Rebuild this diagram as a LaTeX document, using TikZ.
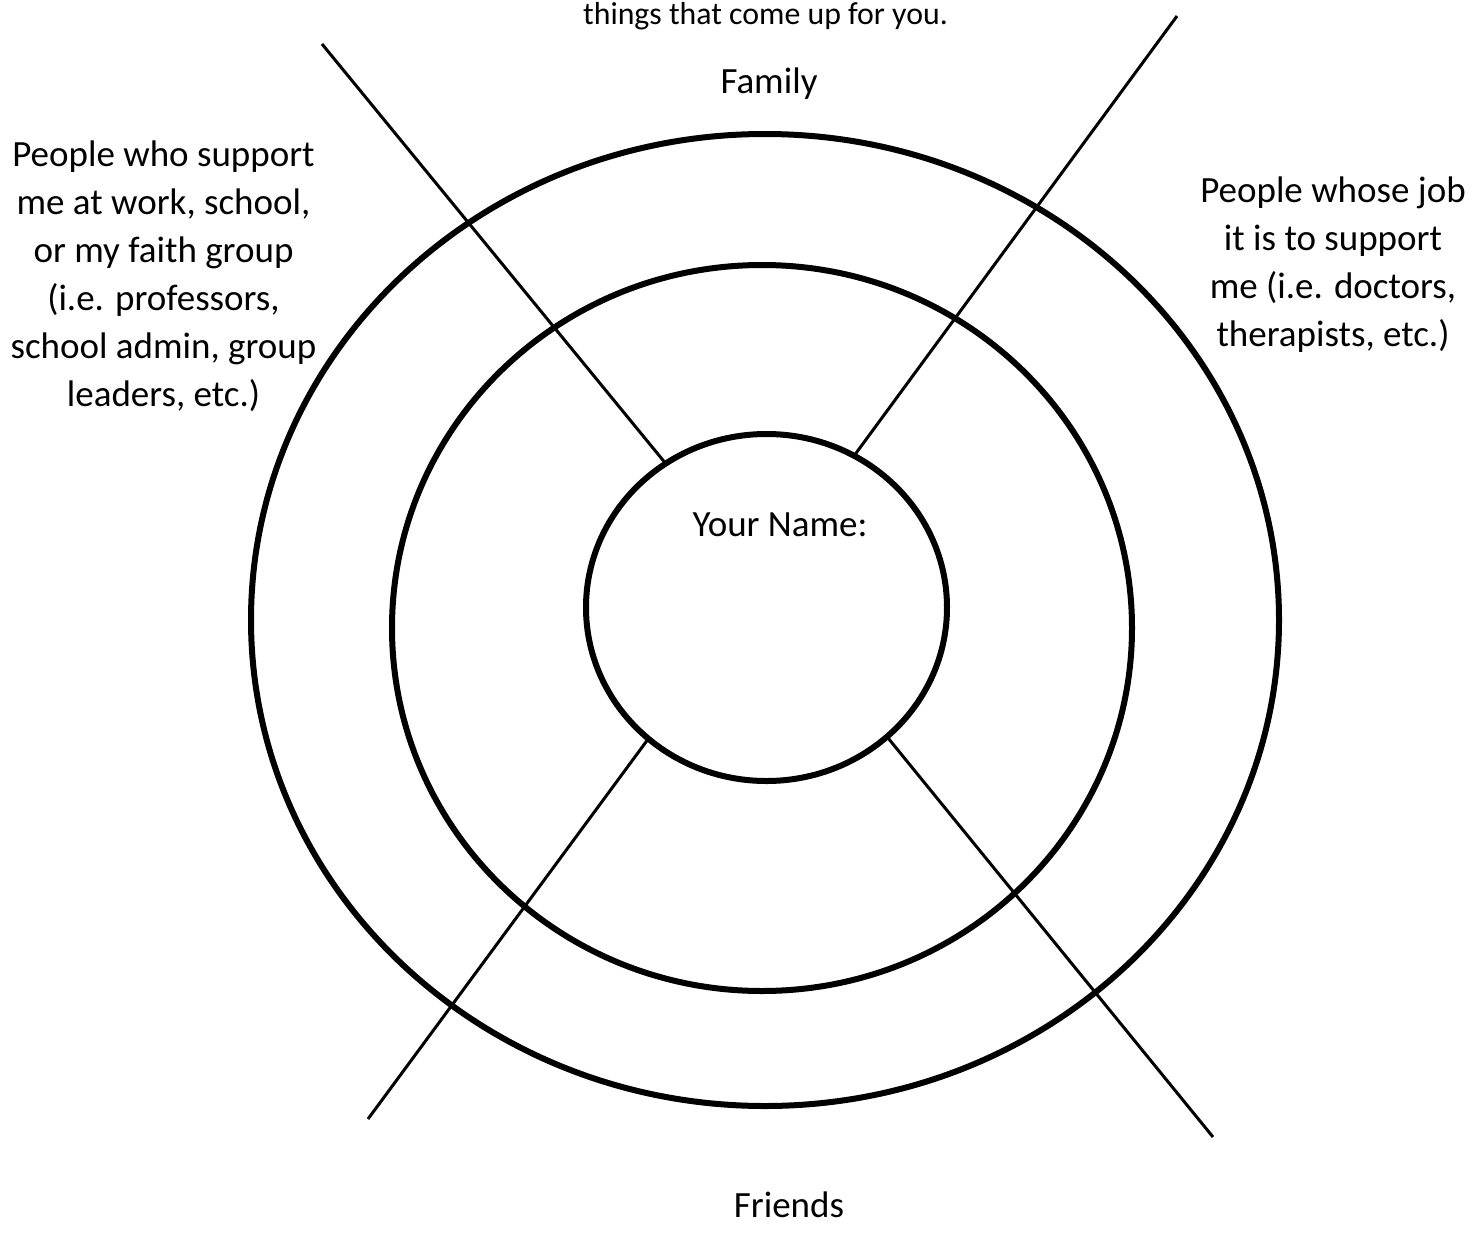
\documentclass[tikz,border=0pt]{standalone}
\usepackage{fontspec}
\setmainfont{Carlito}
\usepackage{tikz}
\usetikzlibrary{shapes.geometric}

\begin{document}
\begin{tikzpicture}[x=0.5pt,y=-0.5pt]
  \tikzset{ring/.style={ellipse,draw=black,line width=3pt,inner sep=0pt,outer sep=0pt}}
  \tikzset{spoke/.style={draw=black,line width=1.5pt}}
  \tikzset{sectortext/.style={font=\fontsize{18.5}{24}\selectfont,align=center,inner sep=0pt,anchor=base,text=black}}
  \useasboundingbox (0,0) rectangle (1473,1243);
  % rings
  \node[ring,minimum width=514pt,minimum height=486pt] (outer) at (765,620) {};
  \node[ring,minimum width=370pt,minimum height=363pt] (middle) at (762,628) {};
  \node[ring,minimum width=180.5pt,minimum height=173.5pt] (self) at (766.5,607.5) {};
  % free ends of the spokes
  \coordinate (tl) at (322,44);
  \coordinate (tr) at (1177,16);
  \coordinate (bl) at (368,1119);
  \coordinate (br) at (1213,1137);
  \draw[spoke] (tl) -- (self.125);
  \draw[spoke] (tr) -- (self.60);
  \draw[spoke] (bl) -- (self.228);
  \draw[spoke] (br) -- (self.313);
  % texts (multi-line nodes sit on their last baseline)
  \node[sectortext,font=\fontsize{15.9}{19}\selectfont] (hint) at (765.5,24) {things that come up for you.};
  \node[sectortext] (family) at (769,93) {Family};
  \node[sectortext] (work) at (163.5,406) {People who support\\me at work, school,\\or my faith group\\(i.e. professors,\\school admin, group\\leaders, etc.)};
  \node[sectortext] (care) at (1333,346) {People whose job\\it is to support\\me (i.e. doctors,\\therapists, etc.)};
  \node[sectortext] (name) at (780,536) {Your Name:};
  \node[sectortext] (friends) at (789,1217) {Friends};
\end{tikzpicture}
\end{document}
